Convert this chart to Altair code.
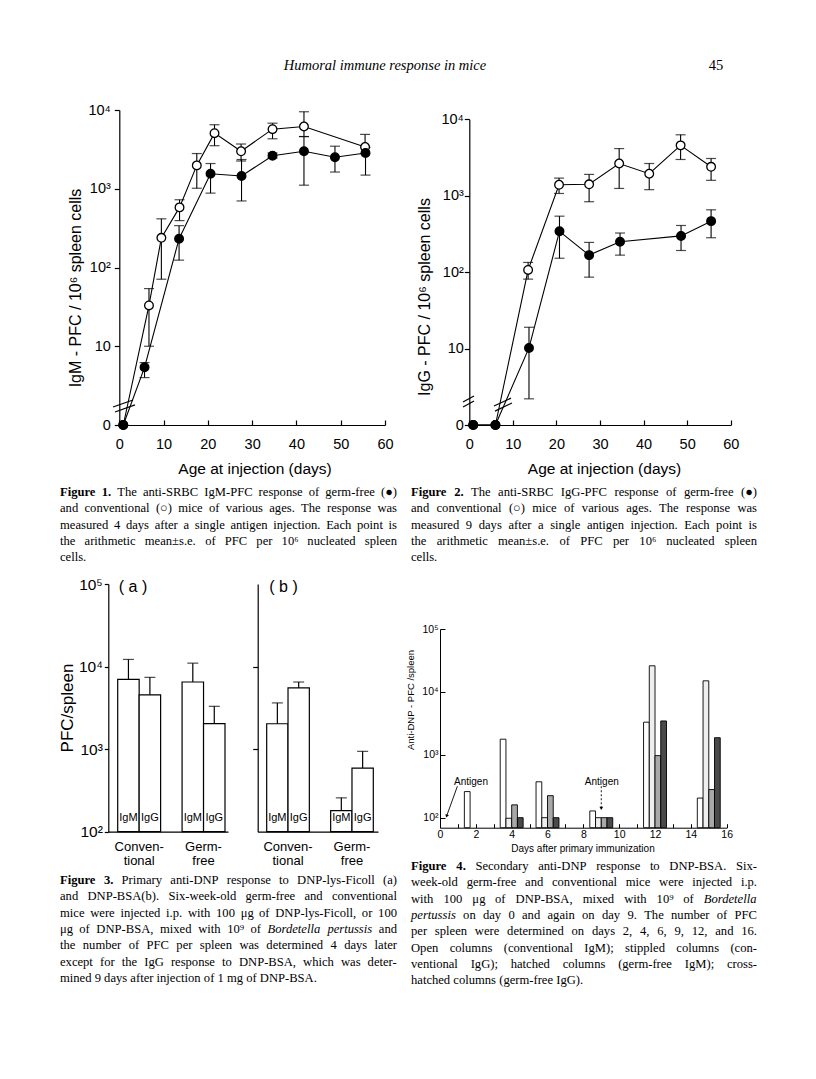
import altair as alt
import pandas as pd

# ============================ DATA ============================
# Figure 1: anti-SRBC IgM-PFC / 10^6 spleen cells (0 = none detected)
F1_CONV_AGE = [0.9, 6.7, 9.5, 13.6, 17.5, 21.5, 27.5, 34.6, 41.7, 55.5]
F1_CONV_PFC = [0, 33, 238, 580, 1980, 5080, 2990, 5710, 6170, 3390]
F1_CONV_HI = [None, 54, 415, 725, 2800, 6500, 3700, 6800, 9500, 4900]
F1_CONV_LO = [None, 10, 71, 394, 1015, 3520, 2250, 4310, 4600, 2800]
F1_GF_AGE = [0.9, 5.7, 13.5, 20.6, 27.6, 34.6, 41.7, 48.7, 55.6]
F1_GF_PFC = [0, 5.4, 232, 1550, 1450, 2630, 2990, 2510, 2850]
F1_GF_HI = [None, 6.2, 340, 2090, 2350, 2850, 4600, 3470, 3350]
F1_GF_LO = [None, 4.0, 124, 880, 700, 2450, 1110, 1630, 1490]

# Figure 2: anti-SRBC IgG-PFC / 10^6 spleen cells
F2_CONV_AGE = [0.9, 6.0, 13.5, 20.6, 27.5, 34.4, 41.3, 48.5, 55.5]
F2_CONV_PFC = [0, 0, 107, 1390, 1410, 2640, 1940, 4560, 2390]
F2_CONV_HI = [None, None, 134, 1700, 1900, 4140, 2640, 6270, 3070]
F2_CONV_LO = [None, None, 81, 1070, 835, 1245, 1200, 2980, 1590]
F2_GF_AGE = [0.9, 6.0, 13.7, 20.7, 27.5, 34.6, 48.6, 55.5]
F2_GF_PFC = [0, 0, 10.2, 342, 167, 250, 298, 465]
F2_GF_HI = [None, None, 19, 540, 245, 325, 408, 654]
F2_GF_LO = [None, None, 2.2, 152, 86, 167, 192, 282]

# axis-break marks (age, PFC) segment ends
F1_BREAK_X = [-1.42, -0.97]
F1_BREAK_X2 = [3.09, 3.54]
F1_BREAK_Y = [1.69, 1.46]
F1_BREAK_Y2 = [2.08, 1.80]
F2_BREAK_X = [-1.45, -1.45, 5.67, 5.9]
F2_BREAK_X2 = [1.08, 1.08, 9.57, 9.8]
F2_BREAK_Y = [2.0, 1.72, 1.77, 1.52]
F2_BREAK_Y2 = [2.4, 2.06, 2.25, 1.94]

# Figure 3: PFC / spleen
F3_KEYS = ["Conv IgM", "Conv IgG", "GF IgM", "GF IgG"]
F3_ISOTYPE = ["IgM", "IgG", "IgM", "IgG"]
F3_GROUP_KEYS = ["Conv IgG", "GF IgG"]
F3_GROUP_LINE1 = ["Conven-", "Germ-"]
F3_GROUP_LINE2 = ["tional", "free"]
F3A_PFC = [7000, 4550, 6500, 2040]
F3A_HI = [12200, 7400, 11000, 3300]
F3B_PFC = [2030, 5530, 180, 590]
F3B_HI = [3630, 6500, 257, 940]

# Figure 4: anti-DNP PFC / spleen
F4_DAYS = [2, 4, 6, 9, 12, 15]
F4_SERIES = ["Conventional IgM", "Conventional IgG", "Germ-free IgM", "Germ-free IgG"]
F4_CONV_IGM = [260, 1770, 372, 128, 3300, 205]
F4_CONV_IGG = [None, 98, 100, 100, 26000, 15000]
F4_GF_IGM = [None, 160, 224, 100, 970, 280]
F4_GF_IGG = [None, 100, 100, 100, 3450, 1870]
F4_ARROW_X = [0.97, 9.0]
F4_ARROW_X2 = [0.37, 9.0]
F4_ARROW_Y = [316, 316]
F4_ARROW_Y2 = [106, 140]
F4_ANTIGEN_X = [1.73, 9.03]
F4_ANTIGEN_Y = [373, 373]

# Captions (**bold**, *italic*)
CAP1 = ["**Figure** **1.** The anti-SRBC IgM-PFC response of germ-free (●)",
        "and conventional (○) mice of various ages. The response was",
        "measured 4 days after a single antigen injection. Each point is",
        "the arithmetic mean±s.e. of PFC per 10⁶ nucleated spleen",
        "cells."]
CAP2 = ["**Figure** **2.** The anti-SRBC IgG-PFC response of germ-free (●)",
        "and conventional (○) mice of various ages. The response was",
        "measured 9 days after a single antigen injection. Each point is",
        "the arithmetic mean±s.e. of PFC per 10⁶ nucleated spleen",
        "cells."]
CAP3 = ["**Figure** **3.** Primary anti-DNP response to DNP-lys-Ficoll (a)",
        "and DNP-BSA(b). Six-week-old germ-free and conventional",
        "mice were injected i.p. with 100 μg of DNP-lys-Ficoll, or 100",
        "μg of DNP-BSA, mixed with 10⁹ of *Bordetella* *pertussis* and",
        "the number of PFC per spleen was determined 4 days later",
        "except for the IgG response to DNP-BSA, which was deter-",
        "mined 9 days after injection of 1 mg of DNP-BSA."]
CAP4 = ["**Figure** **4.** Secondary anti-DNP response to DNP-BSA. Six-",
        "week-old germ-free and conventional mice were injected i.p.",
        "with 100 μg of DNP-BSA, mixed with 10⁹ of *Bordetella*",
        "*pertussis* on day 0 and again on day 9. The number of PFC",
        "per spleen were determined on days 2, 4, 6, 9, 12, and 16.",
        "Open columns (conventional IgM); stippled columns (con-",
        "ventional IgG); hatched columns (germ-free IgM); cross-",
        "hatched columns (germ-free IgG)."]

# ============================ LAYOUT ============================
W, H = 800, 1063
def gx(p): return p - 8
def gy(p): return p - 8

SANS = "Liberation Sans"
SERIF = "Liberation Serif"

SUP_EXPR = ("datum.value < 5 ? '0' : datum.value < 50 ? '10' : datum.value < 500 ? '10²' : "
            "datum.value < 5000 ? '10³' : datum.value < 50000 ? '10⁴' : '10⁵'")


def axis(**kw):
    d = dict(grid=False, title=None, domainColor="black", tickColor="black",
             labelColor="black", labelFont=SANS, domainWidth=1.2, tickWidth=1.2)
    d.update(kw)
    return alt.Axis(**d)


def line_figure(conv, gf, xpx, ypx, brk, y_lab_pad):
    rows = []
    for grp, (ages, pfcs, his, los) in (("conv", conv), ("gf", gf)):
        for a, p, h, l in zip(ages, pfcs, his, los):
            rows.append({"group": grp, "age": a, "pfc": p if p > 0 else 1, "hi": h, "lo": l})
    df = pd.DataFrame(rows)
    err = df.dropna(subset=["hi"])
    xs = alt.Scale(domain=[0, 60], range=[gx(xpx[0]), gx(xpx[1])], nice=False, zero=False)
    ys = alt.Scale(type="log", domain=[1, 10000], range=[gy(ypx[0]), gy(ypx[1])], nice=False)
    xax = axis(orient="bottom", offset=-(H - gy(ypx[0])), values=[0, 10, 20, 30, 40, 50, 60],
               tickSize={"expr": "-5"}, labelFontSize=14.5, labelPadding=17, labelFlush=False)
    yax = axis(orient="left", offset=-gx(xpx[0]), values=[1, 10, 100, 1000, 10000],
               labelExpr=SUP_EXPR, tickSize=5, labelFontSize=14.5, labelPadding=y_lab_pad)
    X = lambda f: alt.X(f, scale=xs, axis=xax)
    Y = lambda f: alt.Y(f, scale=ys, axis=yax)
    bdf = pd.DataFrame({"age": brk[0], "age2": brk[1], "pfc": brk[2], "pfc2": brk[3]})
    lines = alt.Chart(df).mark_line(color="black", strokeWidth=1.1).encode(
        x=X("age:Q"), y=Y("pfc:Q"), detail="group:N")
    rules = alt.Chart(err).mark_rule(color="black", strokeWidth=1.1).encode(
        x=X("age:Q"), y=Y("lo:Q"), y2="hi:Q")
    cap_hi = alt.Chart(err).mark_tick(color="black", orient="horizontal", size=10, thickness=1.2).encode(
        x=X("age:Q"), y=Y("hi:Q"))
    cap_lo = alt.Chart(err).mark_tick(color="black", orient="horizontal", size=10, thickness=1.2).encode(
        x=X("age:Q"), y=Y("lo:Q"))
    brks = alt.Chart(bdf).mark_rule(color="black", strokeWidth=1.2).encode(
        x=X("age:Q"), x2="age2:Q", y=Y("pfc:Q"), y2="pfc2:Q")
    pts = alt.Chart(df).mark_point(filled=True, size=75, stroke="black", strokeWidth=1.3, opacity=1).encode(
        x=X("age:Q"), y=Y("pfc:Q"),
        fill=alt.Fill("group:N", scale=alt.Scale(domain=["conv", "gf"], range=["white", "black"]), legend=None))
    return alt.layer(lines, rules, cap_hi, cap_lo, brks, pts)


def bar_panel(pfc, hi, rpx, pad_outer, align, show_labels, tick_vals, tick_size):
    df = pd.DataFrame({"key": F3_KEYS, "pfc": pfc, "hi": hi, "iso": F3_ISOTYPE, "base": 100})
    g1 = pd.DataFrame({"key": F3_GROUP_KEYS, "label": F3_GROUP_LINE1})
    g2 = pd.DataFrame({"key": F3_GROUP_KEYS, "label": F3_GROUP_LINE2})
    xs = alt.Scale(domain=[F3_KEYS[0], F3_KEYS[1], "gap", F3_KEYS[2], F3_KEYS[3]],
                   range=[gx(rpx[0]), gx(rpx[1])], paddingInner=0, paddingOuter=pad_outer, align=align)
    ys = alt.Scale(type="log", domain=[100, 100000], range=[gy(831.7), gy(584)], nice=False)
    xax = axis(orient="bottom", offset=-(H - gy(831.7)), labels=False, ticks=False)
    yax = axis(orient="left", offset=-gx(rpx[0]), values=tick_vals, labels=show_labels,
               labelExpr=SUP_EXPR, tickSize=tick_size, labelFontSize=15.5, labelPadding=2)
    X = lambda f, **k: alt.X(f, scale=xs, axis=xax, **k)
    Y = lambda f: alt.Y(f, scale=ys, axis=yax)
    bars = alt.Chart(df).mark_bar(fill="white", stroke="black", strokeWidth=1.2).encode(
        x=X("key:N"), y=Y("pfc:Q"), y2="base:Q")
    rules = alt.Chart(df).mark_rule(color="black", strokeWidth=1.2).encode(
        x=X("key:N"), y=Y("pfc:Q"), y2="hi:Q")
    caps = alt.Chart(df).mark_tick(color="black", size=11, thickness=1.2).encode(
        x=X("key:N"), y=Y("hi:Q"))
    iso = alt.Chart(df).mark_text(font=SANS, fontSize=11, color="black").encode(
        x=X("key:N"), y=alt.value(gy(818)), text="iso:N")
    grp1 = alt.Chart(g1).mark_text(font=SANS, fontSize=13, color="black", baseline="middle").encode(
        x=X("key:N", bandPosition=0), y=alt.value(gy(846.5)), text="label:N")
    grp2 = alt.Chart(g2).mark_text(font=SANS, fontSize=13, color="black", baseline="middle").encode(
        x=X("key:N", bandPosition=0), y=alt.value(gy(860.5)), text="label:N")
    return alt.layer(bars, rules, caps, iso, grp1, grp2)


def fig4():
    BAR_W = 0.32
    rows = []
    for k, (ser, vals) in enumerate(zip(F4_SERIES, [F4_CONV_IGM, F4_CONV_IGG, F4_GF_IGM, F4_GF_IGG])):
        for d, v in zip(F4_DAYS, vals):
            if v is None:
                continue
            x0 = d + (k - 2) * BAR_W
            rows.append({"series": ser, "x0": x0, "x1": x0 + BAR_W, "pfc": v, "base": 69.3})
    df = pd.DataFrame(rows)
    xs = alt.Scale(domain=[0, 16], range=[gx(440), gx(726.7)], nice=False, zero=False)
    ys = alt.Scale(type="log", domain=[69.3, 100000], range=[gy(827.7), gy(629)], nice=False)
    xax = axis(orient="bottom", offset=-(H - gy(827.7)), values=list(range(17)),
               labelExpr="datum.value % 2 == 0 ? datum.label : ''", tickSize={"expr": "-4"},
               labelFontSize=10.5, labelPadding=6, labelFlush=False, domainWidth=1, tickWidth=1)
    yax = axis(orient="left", offset=-gx(440), values=[100, 1000, 10000, 100000], labelExpr=SUP_EXPR,
               tickSize={"expr": "-5"}, labelFontSize=10.5, labelPadding=7, domainWidth=1, tickWidth=1)
    X = lambda f: alt.X(f, scale=xs, axis=xax)
    Y = lambda f: alt.Y(f, scale=ys, axis=yax)
    bars = alt.Chart(df).mark_bar(stroke="black", strokeWidth=0.9).encode(
        x=X("x0:Q"), x2="x1:Q", y=Y("pfc:Q"), y2="base:Q",
        fill=alt.Fill("series:N", scale=alt.Scale(domain=F4_SERIES,
                      range=["white", "#eeeeee", "#a8a8a8", "#4a4a4a"]), legend=None))
    adf = pd.DataFrame({"x": F4_ARROW_X, "x2": F4_ARROW_X2, "y": F4_ARROW_Y, "y2": F4_ARROW_Y2,
                        "ang": [200, 180]})
    a1 = alt.Chart(adf.iloc[[0]]).mark_rule(color="black", strokeWidth=0.9).encode(
        x=X("x:Q"), x2="x2:Q", y=Y("y:Q"), y2="y2:Q")
    a2 = alt.Chart(adf.iloc[[1]]).mark_rule(color="black", strokeWidth=0.9, strokeDash=[2, 2]).encode(
        x=X("x:Q"), x2="x2:Q", y=Y("y:Q"), y2="y2:Q")
    heads = alt.Chart(adf).mark_point(shape="triangle-up", filled=True, color="black", size=14, opacity=1).encode(
        x=X("x2:Q"), y=Y("y2:Q"), angle=alt.Angle("ang:Q", scale=None))
    tdf = pd.DataFrame({"x": F4_ANTIGEN_X, "y": F4_ANTIGEN_Y, "t": ["Antigen", "Antigen"]})
    txt = alt.Chart(tdf).mark_text(font=SANS, fontSize=10, color="black").encode(
        x=X("x:Q"), y=Y("y:Q"), text="t:N")
    return alt.layer(bars, a1, a2, heads, txt)


# ---------- text helpers ----------
REG_W = {' ': 250, '(': 333, ')': 333, ',': 250, '-': 333, '.': 250, '/': 278, ':': 278, ';': 278,
         '±': 564, 'μ': 500, '●': 604, '○': 604, '⁶': 320, '⁹': 320,
         'a': 444, 'b': 500, 'c': 444, 'd': 500, 'e': 444, 'f': 333, 'g': 500, 'h': 500, 'i': 278,
         'j': 278, 'k': 500, 'l': 278, 'm': 778, 'n': 500, 'o': 500, 'p': 500, 'q': 500, 'r': 333,
         's': 389, 't': 278, 'u': 500, 'v': 500, 'w': 722, 'x': 500, 'y': 500, 'z': 444,
         'A': 722, 'B': 667, 'C': 667, 'D': 722, 'E': 611, 'F': 556, 'G': 722, 'H': 722, 'I': 333,
         'J': 389, 'K': 722, 'L': 611, 'M': 889, 'N': 722, 'O': 722, 'P': 556, 'Q': 722, 'R': 667,
         'S': 556, 'T': 611, 'U': 722, 'V': 722, 'W': 944, 'X': 722, 'Y': 722, 'Z': 611}
for _d in "0123456789":
    REG_W[_d] = 500
BOLD_W = {'F': 611, 'i': 278, 'g': 500, 'u': 556, 'r': 444, 'e': 444, '.': 250}
ITAL_W = {'B': 611, 'o': 500, 'r': 389, 'd': 500, 'e': 444, 't': 278, 'l': 278, 'a': 500,
          'p': 500, 'u': 500, 's': 389, 'i': 278}


def tw(s, fs, style):
    tbl = BOLD_W if style == "bold" else ITAL_W if style == "italic" else {}
    return sum(tbl.get(c, REG_W.get(c, 500)) for c in s) * fs / 1000.0


def caption_rows(lines, x0, width, y0, lh, fs):
    rows = []
    for i, line in enumerate(lines):
        words = []
        for w in line.split(" "):
            st = "regular"
            if w.startswith("**") and w.endswith("**"):
                st, w = "bold", w[2:-2]
            elif w.startswith("*") and w.endswith("*"):
                st, w = "italic", w[1:-1]
            words.append((w, st))
        widths = [tw(w, fs, s) for w, s in words]
        if i == len(lines) - 1 or len(words) == 1:
            gap = 0.25 * fs
        else:
            gap = (width - sum(widths)) / (len(words) - 1)
        x = x0
        for (w, s), wd in zip(words, widths):
            rows.append({"text": w, "x": gx(x), "y": gy(y0 + i * lh), "style": s, "size": fs})
            x += wd + gap
    return rows


CAP_FS = 12.6
cap = []
cap += caption_rows(CAP1, 60, 337, 492, 16.3, CAP_FS)
cap += caption_rows(CAP2, 411, 346, 492, 16.3, CAP_FS)
cap += caption_rows(CAP3, 60, 337, 880, 16.3, CAP_FS)
cap += caption_rows(CAP4, 411, 346, 866, 16.3, CAP_FS)
cap_df = pd.DataFrame(cap)


def cap_layer(style, **props):
    return alt.Chart(cap_df[cap_df["style"] == style]).mark_text(
        font=SERIF, color="black", align="left", baseline="middle", **props).encode(
        x=alt.X("x:Q", scale=None, axis=None), y=alt.Y("y:Q", scale=None, axis=None),
        text="text:N", size=alt.Size("size:Q", scale=None, legend=None))


# free-standing labels: (text, page x, page y, font size, angle)
LABELS_SANS = [
    ("IgM - PFC / 10⁶ spleen cells", 76, 288, 16, 270),
    ("Age at injection (days)", 255, 469, 15.5, 0),
    ("IgG - PFC / 10⁶ spleen cells", 425, 297, 16, 270),
    ("Age at injection (days)", 604.5, 469, 15.5, 0),
    ("PFC/spleen", 68, 708, 17, 270),
    ("( a )", 133, 587, 16, 0),
    ("( b )", 283.5, 587, 16, 0),
    ("Anti-DNP - PFC /spleen", 411, 700, 9.5, 270),
    ("Days after primary immunization", 583, 849, 10, 0),
]
lab_df = pd.DataFrame([{"text": t, "x": gx(x), "y": gy(y), "size": s, "angle": a}
                       for t, x, y, s, a in LABELS_SANS])
labels = alt.Chart(lab_df).mark_text(font=SANS, color="black", baseline="middle").encode(
    x=alt.X("x:Q", scale=None, axis=None), y=alt.Y("y:Q", scale=None, axis=None), text="text:N",
    size=alt.Size("size:Q", scale=None, legend=None), angle=alt.Angle("angle:Q", scale=None))

head_df = pd.DataFrame([{"text": "Humoral immune response in mice", "x": gx(385), "y": gy(66)}])
header = alt.Chart(head_df).mark_text(font=SERIF, fontStyle="italic", fontSize=14.5, color="black",
                                      baseline="middle").encode(
    x=alt.X("x:Q", scale=None, axis=None), y=alt.Y("y:Q", scale=None, axis=None), text="text:N")
page_df = pd.DataFrame([{"text": "45", "x": gx(716), "y": gy(66)}])
pageno = alt.Chart(page_df).mark_text(font=SERIF, fontSize=14.5, color="black", baseline="middle").encode(
    x=alt.X("x:Q", scale=None, axis=None), y=alt.Y("y:Q", scale=None, axis=None), text="text:N")

fig1 = line_figure((F1_CONV_AGE, F1_CONV_PFC, F1_CONV_HI, F1_CONV_LO),
                   (F1_GF_AGE, F1_GF_PFC, F1_GF_HI, F1_GF_LO),
                   (119.3, 385), (425, 110),
                   (F1_BREAK_X, F1_BREAK_X2, F1_BREAK_Y, F1_BREAK_Y2), 4)
fig2 = line_figure((F2_CONV_AGE, F2_CONV_PFC, F2_CONV_HI, F2_CONV_LO),
                   (F2_GF_AGE, F2_GF_PFC, F2_GF_HI, F2_GF_LO),
                   (469.3, 730.7), (425, 119.3),
                   (F2_BREAK_X, F2_BREAK_X2, F2_BREAK_Y, F2_BREAK_Y2), 1)
fig3a = bar_panel(F3A_PFC, F3A_HI, (108.3, 228), 0.289, 0.758, True,
                  [100, 1000, 10000, 100000], 4)
fig3b = bar_panel(F3B_PFC, F3B_HI, (257.7, 378), 0.321, 0.657, False,
                  [1000, 10000], 5)
f4 = fig4()

chart = alt.layer(
    fig1, fig2, fig3a, fig3b, f4,
    cap_layer("regular"), cap_layer("italic", fontStyle="italic"), cap_layer("bold", fontWeight="bold"),
    labels, header, pageno,
).resolve_scale(
    x="independent", y="independent", fill="independent", size="independent", angle="independent"
).resolve_axis(
    x="independent", y="independent"
).properties(
    width=W, height=H, autosize=alt.AutoSizeParams(type="none"), padding=0
).configure_view(stroke=None)

chart.save("out.html", embed_options={"renderer": "svg", "actions": False})
